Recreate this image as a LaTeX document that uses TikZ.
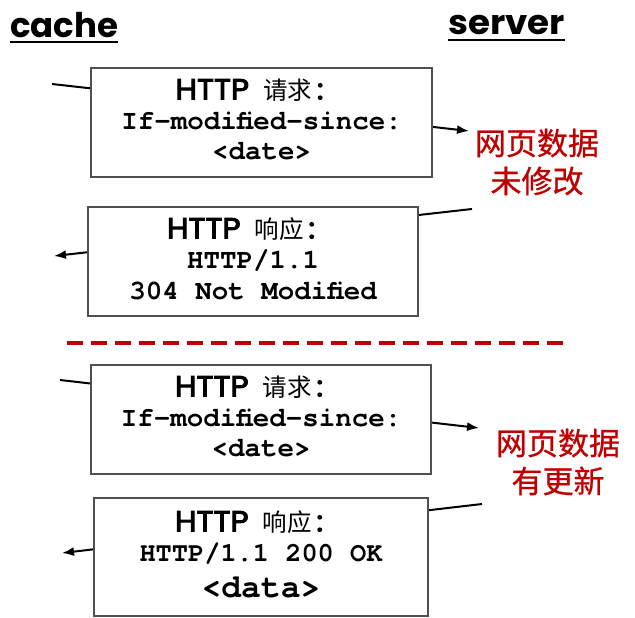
\documentclass[tikz,border=0pt]{standalone}
\usepackage{fontspec}
\usetikzlibrary{arrows.meta}
\newfontfamily\comicfont{Poppins}
\newfontfamily\comichead[FakeBold=3.5,FakeStretch=1.08]{Poppins}
\newfontfamily\monofont{texgyrecursor-bold.otf}
\newfontfamily\cjkfont{Noto Sans CJK SC}
\newfontfamily\cjknote[FakeBold=0.8]{Noto Sans CJK SC}
\definecolor{myred}{RGB}{192,0,0}
\definecolor{boxgray}{RGB}{80,80,80}
\newcommand\headtxt[1]{\raisebox{0pt}[\height][0pt]{{\comichead\fontsize{29}{29}\selectfont HTTP}\hspace{14pt}{\cjkfont\fontsize{24.5}{24.5}\selectfont #1}{\comichead\fontsize{29}{29}\selectfont\,:}}}
\newcommand\mtxt{\monofont\fontsize{27.5}{27.5}\selectfont}
\begin{document}
\begin{tikzpicture}[x=1pt,y=-1pt,
  msgbox/.style={draw=boxgray, line width=1.3pt, fill=white, rectangle, inner sep=0pt},
  msg/.style={line width=2pt, -{Latex[length=12pt,width=9pt]}},
  txt/.style={anchor=base, inner sep=0pt},
  hd/.style={anchor=base, inner sep=0pt, xshift=-12pt},
  side/.style={inner sep=0pt, anchor=base west, font=\comicfont\bfseries\fontsize{34}{34}\selectfont},
  note/.style={inner sep=0pt, text=myred, align=center, font=\cjknote\fontsize{31}{38}\selectfont},
]
\useasboundingbox (0,0) rectangle (635,618);
% side labels
\node[side] (cache) at (10,38) {cache};
\node[side, xscale=1.05] (server) at (448,35) {server};
\draw[line width=2pt] ([yshift=-4.5pt]cache.base west) -- ([yshift=-4.5pt]cache.base east);
\draw[line width=2pt] ([yshift=-5pt]server.base west) -- ([yshift=-5pt]server.base east);
% connector end points
\coordinate (a1s) at (52,84);  \coordinate (a1e) at (469,131);
\coordinate (a2s) at (472,209); \coordinate (a2e) at (54,256);
\coordinate (a3s) at (60,380);  \coordinate (a3e) at (479,428);
\coordinate (a4s) at (482,504); \coordinate (a4e) at (62,553);
\draw[msg] (a1s) -- (a1e);
\draw[msg] (a2s) -- (a2e);
\draw[msg] (a3s) -- (a3e);
\draw[msg] (a4s) -- (a4e);
% boxes
\node[msgbox, minimum width=341pt, minimum height=109pt] (b1) at (261.5,122.5) {};
\node[msgbox, minimum width=330pt, minimum height=109pt] (b2) at (253,261.5) {};
\node[msgbox, minimum width=340pt, minimum height=109pt] (b3) at (261,419.5) {};
\node[msgbox, minimum width=334pt, minimum height=118pt] (b4) at (261,557) {};
% box 1 text
\node[hd] (t1a) at ([yshift=-32pt]b1.north) {\headtxt{请求}};
\node[txt] (t1b) at ([yshift=-62pt]b1.north) {\mtxt If-modified-since:};
\node[txt] (t1c) at ([yshift=-92pt]b1.north) {\mtxt <date>};
% box 2 text
\node[hd] (t2a) at ([yshift=-32pt]b2.north) {\headtxt{响应}};
\node[txt] (t2b) at ([yshift=-62.5pt]b2.north) {\mtxt HTTP/1.1};
\node[txt] (t2c) at ([yshift=-93pt]b2.north) {\mtxt 304 Not Modified};
% box 3 text
\node[hd] (t3a) at ([yshift=-32pt]b3.north) {\headtxt{请求}};
\node[txt] (t3b) at ([yshift=-62pt]b3.north) {\mtxt If-modified-since:};
\node[txt] (t3c) at ([yshift=-92pt]b3.north) {\mtxt <date>};
% box 4 text
\node[hd] (t4a) at ([yshift=-34pt]b4.north) {\headtxt{响应}};
\node[txt] (t4b) at ([yshift=-64pt]b4.north) {\monofont\fontsize{27}{27}\selectfont HTTP/1.1 200 OK};
\node[txt] (t4c) at ([yshift=-100pt]b4.north) {\monofont\fontsize{33}{33}\selectfont <data>};
% red notes
\node[note] (n1) at (537,162) {网页数据\\未修改};
\node[note] (n2) at (558,462) {网页数据\\有更新};
% separator
\coordinate (sepl) at (67,343); \coordinate (sepr) at (563,343);
\draw[myred, line width=4pt, dash pattern=on 15.5pt off 8.5pt] (sepl) -- (sepr);
\end{tikzpicture}
\end{document}
